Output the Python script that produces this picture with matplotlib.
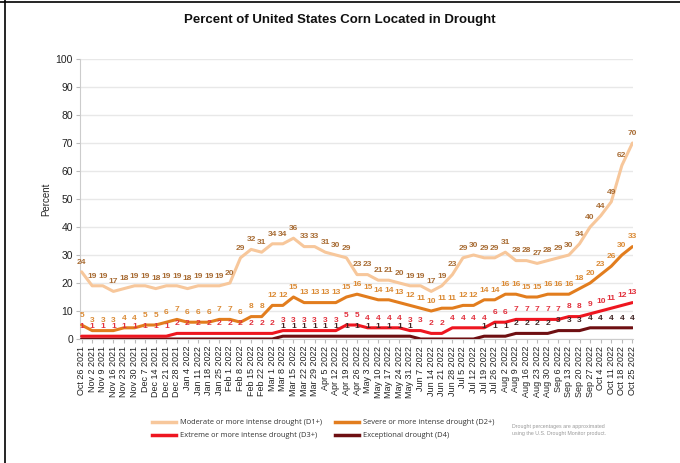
import matplotlib
matplotlib.use("Agg")
import matplotlib.pyplot as plt
from matplotlib.lines import Line2D
import datetime as dt

plt.rcParams['font.family'] = ['Liberation Sans', 'DejaVu Sans']

start = dt.date(2021, 10, 26)
weeks = [start + dt.timedelta(days=7 * i) for i in range(53)]
tick_labels = [f"{d.strftime('%b')} {d.day} {d.year}" for d in weeks]

d1 = [24, 19, 19, 17, 18, 19, 19, 18, 19, 19, 18, 19, 19, 19, 20, 29, 32, 31, 34, 34,
      36, 33, 33, 31, 30, 29, 23, 23, 21, 21, 20, 19, 19, 17, 19, 23, 29, 30, 29, 29,
      31, 28, 28, 27, 28, 29, 30, 34, 40, 44, 49, 62, 70]
d2 = [5, 3, 3, 3, 4, 4, 5, 5, 6, 7, 6, 6, 6, 7, 7, 6, 8, 8, 12, 12,
      15, 13, 13, 13, 13, 15, 16, 15, 14, 14, 13, 12, 11, 10, 11, 11, 12, 12, 14, 14,
      16, 16, 15, 15, 16, 16, 16, 18, 20, 23, 26, 30, 33]
d3 = [1, 1, 1, 1, 1, 1, 1, 1, 1, 2, 2, 2, 2, 2, 2, 2, 2, 2, 2, 3,
      3, 3, 3, 3, 3, 5, 5, 4, 4, 4, 4, 3, 3, 2, 2, 4, 4, 4, 4, 6,
      6, 7, 7, 7, 7, 7, 8, 8, 9, 10, 11, 12, 13]
d4 = [0, 0, 0, 0, 0, 0, 0, 0, 0, 0, 0, 0, 0, 0, 0, 0, 0, 0, 0, 1,
      1, 1, 1, 1, 1, 1, 1, 1, 1, 1, 1, 1, 0, 0, 0, 0, 0, 0, 1, 1,
      1, 2, 2, 2, 2, 3, 3, 3, 4, 4, 4, 4, 4]

series = [
    ("Moderate or more intense drought (D1+)", d1, "#F7C79B", "#A86C34"),
    ("Severe or more intense drought (D2+)", d2, "#E27D1E", "#DB8B36"),
    ("Extreme or more intense drought (D3+)", d3, "#EE1620", "#E2313D"),
    ("Exceptional drought (D4)", d4, "#6E0F12", "#3E2222"),
]

fig = plt.figure(figsize=(6.8, 4.63), dpi=100)
ax = fig.add_axes([80 / 680, 1 - 339 / 463, (633 - 80) / 680, (339 - 59) / 463])

x = list(range(len(weeks)))
for name, vals, col, lcol in series[::-1]:
    ax.plot(x, vals, color=col, lw=2.2, solid_capstyle='round', zorder=3)

for name, vals, col, lcol in series:
    for i, v in enumerate(vals):
        if name.startswith("Exceptional") and v == 0:
            continue
        ax.annotate(str(v), (i, v), xytext=(0, 4.5), textcoords='offset points',
                    ha='center', va='bottom', fontsize=6, fontweight='bold',
                    color=lcol, zorder=5)

ax.set_xlim(-0.15, 52.05)
ax.set_ylim(0, 100)
ax.set_yticks(range(0, 101, 10))
ax.set_xticks(x)
ax.set_xticklabels(tick_labels, rotation=90, fontsize=6.5, color='#222222')
ax.tick_params(axis='y', labelsize=7.5, colors='#222222', length=3, color='#BBBBBB', pad=2)
ax.tick_params(axis='x', length=3, color='#BBBBBB', pad=2)
ax.grid(axis='y', color='#E8E8E8', lw=1.0)
ax.set_axisbelow(True)
for s in ['top', 'right']:
    ax.spines[s].set_visible(False)
ax.spines['left'].set_color('#CCCCCC')
ax.spines['bottom'].set_color('#CCCCCC')
ax.set_ylabel("Percent", fontsize=7, color='#222222', labelpad=3)

fig.text(340 / 680, 1 - 20 / 463, "Percent of United States Corn Located in Drought",
         ha='center', va='center', fontsize=9.5, fontweight='bold', color='#111111')

handles = [Line2D([], [], color=c, lw=2.5) for _, _, c, _ in series]
labels = [n for n, _, _, _ in series]
order = [0, 2, 1, 3]
leg = fig.legend([handles[i] for i in order], [labels[i] for i in order], ncol=2,
                 loc='upper left', bbox_to_anchor=(146 / 680, 1 - 413 / 463),
                 frameon=False, handlelength=3.2, columnspacing=1.6,
                 labelspacing=0.75, handletextpad=0.6, borderpad=0.3,
                 prop={'family': ['Open Sans', 'DejaVu Sans'], 'size': 5.4})
for t in leg.get_texts():
    t.set_color('#333333')

fig.text(512 / 680, 1 - 430 / 463,
         "Drought percentages are approximated\nusing the U.S. Drought Monitor product.",
         ha='left', va='center', fontsize=3.8, color='#999999', linespacing=1.3)

# frame lines
fig.add_artist(Line2D([0, 1], [1 - 1.5 / 463] * 2, transform=fig.transFigure, color='black', lw=1.2))
fig.add_artist(Line2D([5 / 680] * 2, [0, 1], transform=fig.transFigure, color='black', lw=1.2))

fig.savefig("out.png", dpi=100)
